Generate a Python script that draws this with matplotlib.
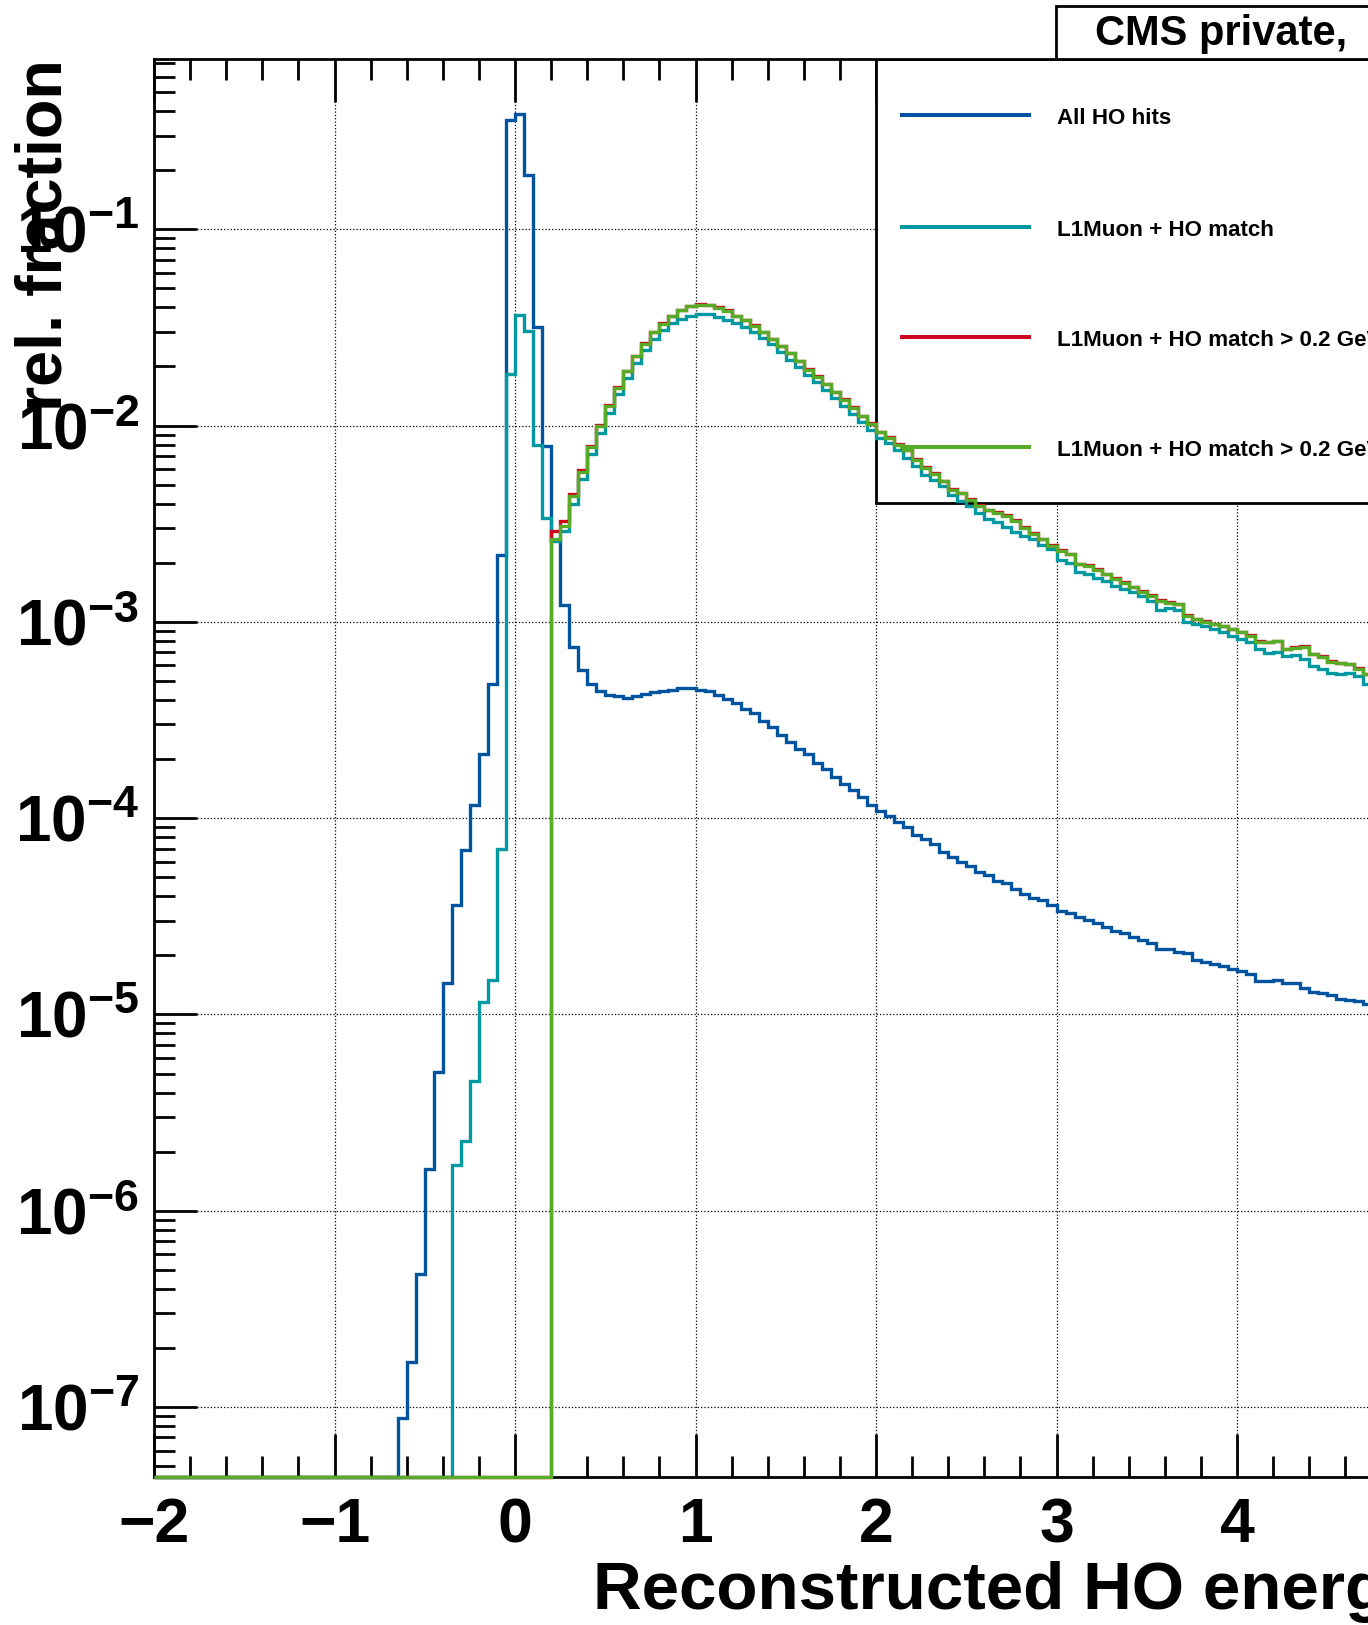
import numpy as np
import matplotlib
matplotlib.use("Agg")
import matplotlib.pyplot as plt
from matplotlib.patches import Rectangle
from matplotlib.lines import Line2D
from matplotlib.ticker import MultipleLocator, LogLocator, NullFormatter

plt.rcParams['font.family'] = ['Liberation Sans', 'DejaVu Sans']
plt.rcParams['font.weight'] = 'bold'
plt.rcParams['mathtext.fontset'] = 'custom'
plt.rcParams['mathtext.rm'] = 'Liberation Sans:bold'
plt.rcParams['mathtext.bf'] = 'Liberation Sans:bold'
plt.rcParams['mathtext.default'] = 'bf'

# ---- data (rel. fraction per 0.05 GeV bin) ----
bin_width = 0.05
x_lo, x_hi = -2.0, 4.75

# All HO hits, first non-empty bin starts at -0.65
all_ho_start = -0.65
all_ho = [8.8e-8, 1.69e-7, 4.77e-7, 1.63e-6, 5.07e-6, 1.44e-5, 3.6e-5, 6.87e-5, 1.16e-4, 2.11e-4,
          4.84e-4, 2.2e-3, 0.361,
          0.388, 0.188, 0.0319, 7.87e-3, 2.6e-3, 1.22e-3, 7.43e-4, 5.7e-4, 4.84e-4, 4.42e-4,
          4.25e-4, 4.17e-4, 4.09e-4, 4.18e-4, 4.28e-4, 4.38e-4, 4.45e-4, 4.51e-4, 4.58e-4, 4.59e-4,
          4.51e-4, 4.44e-4, 4.26e-4, 4.05e-4, 3.85e-4, 3.61e-4, 3.43e-4, 3.12e-4, 2.91e-4, 2.66e-4,
          2.44e-4, 2.25e-4, 2.11e-4, 1.91e-4, 1.78e-4, 1.62e-4, 1.50e-4, 1.39e-4, 1.28e-4, 1.17e-4,
          1.09e-4, 1.03e-4, 9.55e-5, 9.0e-5, 8.16e-5, 7.79e-5, 7.40e-5, 6.76e-5, 6.33e-5, 6.01e-5,
          5.70e-5, 5.30e-5, 5.13e-5, 4.78e-5, 4.70e-5, 4.35e-5, 4.13e-5, 3.93e-5, 3.85e-5, 3.61e-5,
          3.36e-5, 3.29e-5, 3.12e-5, 3.02e-5, 2.94e-5, 2.80e-5, 2.67e-5, 2.59e-5, 2.49e-5, 2.39e-5,
          2.32e-5, 2.15e-5, 2.15e-5, 2.08e-5, 2.05e-5, 1.89e-5, 1.84e-5, 1.80e-5, 1.77e-5, 1.71e-5,
          1.66e-5, 1.60e-5, 1.48e-5, 1.48e-5, 1.50e-5, 1.45e-5, 1.45e-5, 1.36e-5, 1.30e-5, 1.29e-5,
          1.25e-5, 1.20e-5, 1.19e-5, 1.17e-5, 1.13e-5]

# L1Muon + HO match, first non-empty bin starts at -0.35
match_start = -0.35
match = [1.71e-6, 2.27e-6, 4.59e-6, 1.16e-5, 1.49e-5, 6.95e-5, 0.0184,
         0.0366, 0.0305, 7.97e-3, 3.38e-3,
         2.58e-3, 2.92e-3, 4.0e-3, 5.36e-3, 7.18e-3, 9.12e-3,
         0.0116, 0.01455, 0.0175, 0.02086, 0.02438, 0.02762, 0.0306, 0.0333, 0.0351, 0.0363,
         0.0372, 0.0370, 0.0358, 0.0347, 0.0333, 0.0318, 0.0299, 0.0280, 0.0259, 0.0236,
         0.0217, 0.0199, 0.0182, 0.01663, 0.01514, 0.01384, 0.01265, 0.01151, 0.0104, 9.47e-3,
         8.65e-3, 8.16e-3, 7.55e-3, 6.84e-3, 6.21e-3, 5.63e-3, 5.31e-3, 4.91e-3, 4.45e-3, 4.12e-3,
         3.88e-3, 3.59e-3, 3.36e-3, 3.21e-3, 3.06e-3, 2.87e-3, 2.74e-3, 2.64e-3, 2.46e-3, 2.34e-3,
         2.07e-3, 2.00e-3, 1.80e-3, 1.75e-3, 1.68e-3, 1.62e-3, 1.53e-3, 1.47e-3, 1.42e-3, 1.35e-3,
         1.28e-3, 1.15e-3, 1.17e-3, 1.15e-3, 9.93e-4, 9.73e-4, 9.47e-4, 9.18e-4, 8.83e-4, 8.49e-4,
         8.16e-4, 7.91e-4, 7.31e-4, 6.98e-4, 7.03e-4, 6.71e-4, 6.76e-4, 6.45e-4, 5.97e-4, 5.74e-4,
         5.52e-4, 5.41e-4, 5.52e-4, 5.31e-4, 4.82e-4]

# L1Muon + HO match > 0.2 GeV (two versions), start at 0.2
cut_start = 0.2
match_cut = [2.92e-3, 3.27e-3, 4.48e-3, 5.96e-3, 7.91e-3, 1.012e-2,
             1.27e-2, 1.57e-2, 1.90e-2, 2.27e-2, 2.63e-2, 3.00e-2, 3.32e-2, 3.63e-2, 3.90e-2, 4.08e-2,
             4.15e-2, 4.13e-2, 4.00e-2, 3.86e-2, 3.63e-2, 3.46e-2, 3.24e-2, 3.00e-2, 2.77e-2, 2.55e-2,
             2.34e-2, 2.14e-2, 1.94e-2, 1.78e-2, 1.63e-2, 1.49e-2, 1.37e-2, 1.25e-2, 1.12e-2, 1.03e-2,
             9.30e-3, 8.70e-3, 8.05e-3, 7.52e-3, 6.75e-3, 6.16e-3, 5.72e-3, 5.23e-3, 4.75e-3, 4.53e-3,
             4.22e-3, 3.92e-3, 3.72e-3, 3.62e-3, 3.52e-3, 3.29e-3, 3.04e-3, 2.82e-3, 2.65e-3, 2.46e-3,
             2.33e-3, 2.22e-3, 1.98e-3, 1.94e-3, 1.86e-3, 1.76e-3, 1.67e-3, 1.59e-3, 1.51e-3, 1.43e-3,
             1.37e-3, 1.29e-3, 1.26e-3, 1.23e-3, 1.08e-3, 1.04e-3, 1.01e-3, 9.80e-4, 9.52e-4, 9.22e-4,
             8.86e-4, 8.60e-4, 7.95e-4, 7.94e-4, 8.03e-4, 7.30e-4, 7.42e-4, 7.55e-4, 6.88e-4, 6.68e-4,
             6.30e-4, 6.18e-4, 6.11e-4, 5.82e-4, 5.45e-4]
match_cut2 = [2.65e-3, 3.08e-3, 4.39e-3, 5.82e-3, 7.74e-3, 9.92e-3,
              1.254e-2, 1.556e-2, 1.891e-2, 2.256e-2, 2.618e-2, 2.985e-2, 3.31e-2, 3.61e-2, 3.87e-2, 4.06e-2,
              4.12e-2, 4.12e-2, 3.98e-2, 3.83e-2, 3.61e-2, 3.44e-2, 3.23e-2, 2.985e-2, 2.76e-2, 2.54e-2,
              2.33e-2, 2.13e-2, 1.93e-2, 1.77e-2, 1.62e-2, 1.479e-2, 1.356e-2, 1.23e-2, 1.116e-2, 1.024e-2,
              9.25e-3, 8.65e-3, 8.0e-3, 7.48e-3, 6.71e-3, 6.08e-3, 5.69e-3, 5.20e-3, 4.72e-3, 4.51e-3,
              4.20e-3, 3.90e-3, 3.70e-3, 3.60e-3, 3.46e-3, 3.27e-3, 2.99e-3, 2.80e-3, 2.64e-3, 2.44e-3,
              2.30e-3, 2.21e-3, 1.97e-3, 1.93e-3, 1.84e-3, 1.75e-3, 1.66e-3, 1.57e-3, 1.50e-3, 1.42e-3,
              1.35e-3, 1.27e-3, 1.25e-3, 1.23e-3, 1.07e-3, 1.03e-3, 1.00e-3, 9.73e-4, 9.47e-4, 9.18e-4,
              8.83e-4, 8.49e-4, 7.91e-4, 7.91e-4, 8.00e-4, 7.26e-4, 7.40e-4, 7.48e-4, 6.84e-4, 6.65e-4,
              6.21e-4, 6.15e-4, 6.08e-4, 5.78e-4, 5.41e-4]

labels = ['All HO hits', 'L1Muon + HO match',
          'L1Muon + HO match > 0.2 GeV', 'L1Muon + HO match > 0.2 GeV']
colors = ['#00549F', '#0098A1', '#CC071E', '#57AB27']

# ---- layout, in pixels of the 1368x1625 canvas ----
W, H = 1368, 1625
def fx(px):
    return px / W
def fy(py):
    return 1 - py / H

x_min, x_max = -2.0, 8.0
y_min, y_max = 4.4e-8, 0.737
ax_left, ax_top, ax_bot = 154.0, 59.0, 1477.0
px_per_unit = 180.5

fig = plt.figure(figsize=(W / 100, H / 100), dpi=100)
ax = fig.add_axes([fx(ax_left), fy(ax_bot),
                   (x_max - x_min) * px_per_unit / W, (ax_bot - ax_top) / H])
ax.set_yscale('log')
ax.set_xlim(x_min, x_max)
ax.set_ylim(y_min, y_max)

edges = np.round(np.arange(x_lo, x_hi + bin_width / 2, bin_width), 3)

def full_hist(start, vals):
    """ pad empty bins in front so every series spans the same edges """
    n_lead = int(round((start - x_lo) / bin_width))
    return np.concatenate([np.zeros(n_lead), np.asarray(vals)])

series = [full_hist(all_ho_start, all_ho), full_hist(match_start, match),
          full_hist(cut_start, match_cut), full_hist(cut_start, match_cut2)]

for vals, col in zip(series, colors):
    # empty bins sit on the bottom of the frame, like ROOT does
    ax.stairs(np.maximum(vals, y_min), edges, baseline=None, color=col,
              linewidth=2.4, clip_on=False, zorder=3)

# axes styling
ax.grid(True, which='major', color='black', linestyle=':', linewidth=0.9)
ax.xaxis.set_major_locator(MultipleLocator(1))
ax.xaxis.set_minor_locator(MultipleLocator(0.2))
decades = list(range(-7, 0))
ax.set_yticks([10.0 ** e for e in decades], labels=[rf'$10^{{{e}}}$' for e in decades])
ax.yaxis.set_minor_locator(LogLocator(base=10, subs=np.arange(2, 10), numticks=40))
ax.yaxis.set_minor_formatter(NullFormatter())
ax.tick_params(which='both', direction='in', top=True, right=True, width=2)
ax.tick_params(which='major', length=31)
ax.tick_params(which='minor', length=15)
ax.tick_params(axis='x', labelsize=45, pad=14)
ax.tick_params(axis='y', labelsize=46, pad=10.5)
for sp in ax.spines.values():
    sp.set_linewidth(2)

# axis titles
fig.text(fx(593), fy(1609), 'Reconstructed HO energy', fontsize=48.5, va='baseline', ha='left')
fig.text(fx(14), fy(59), 'rel. fraction', fontsize=46.5, rotation=90, ha='left', va='top')

# title box
fig.add_artist(Rectangle((fx(1056), fy(59)), fx(800), (59 - 6) / H, transform=fig.transFigure,
                         facecolor='white', edgecolor='black', linewidth=2))
fig.text(fx(1095), fy(45), 'CMS private,', fontsize=30, va='baseline', ha='left')

# legend: white box hides grid and ticks, histograms stay on top (box runs off the right edge)
ax.add_patch(Rectangle((fx(876), fy(502.5)), fx(800), (502.5 - 59) / H,
                       transform=fig.transFigure, facecolor='white', edgecolor='black',
                       linewidth=2, zorder=2))
entry_y = [115, 227, 337, 447]
for lab, col, yy in zip(labels, colors, entry_y):
    fig.add_artist(Line2D([fx(902), fx(1029)], [fy(yy), fy(yy)], color=col, linewidth=2.9,
                          transform=fig.transFigure))
    fig.text(fx(1057), fy(yy + 9), lab, fontsize=16.1, va='baseline', ha='left')

fig.savefig('out.png', dpi=100)
